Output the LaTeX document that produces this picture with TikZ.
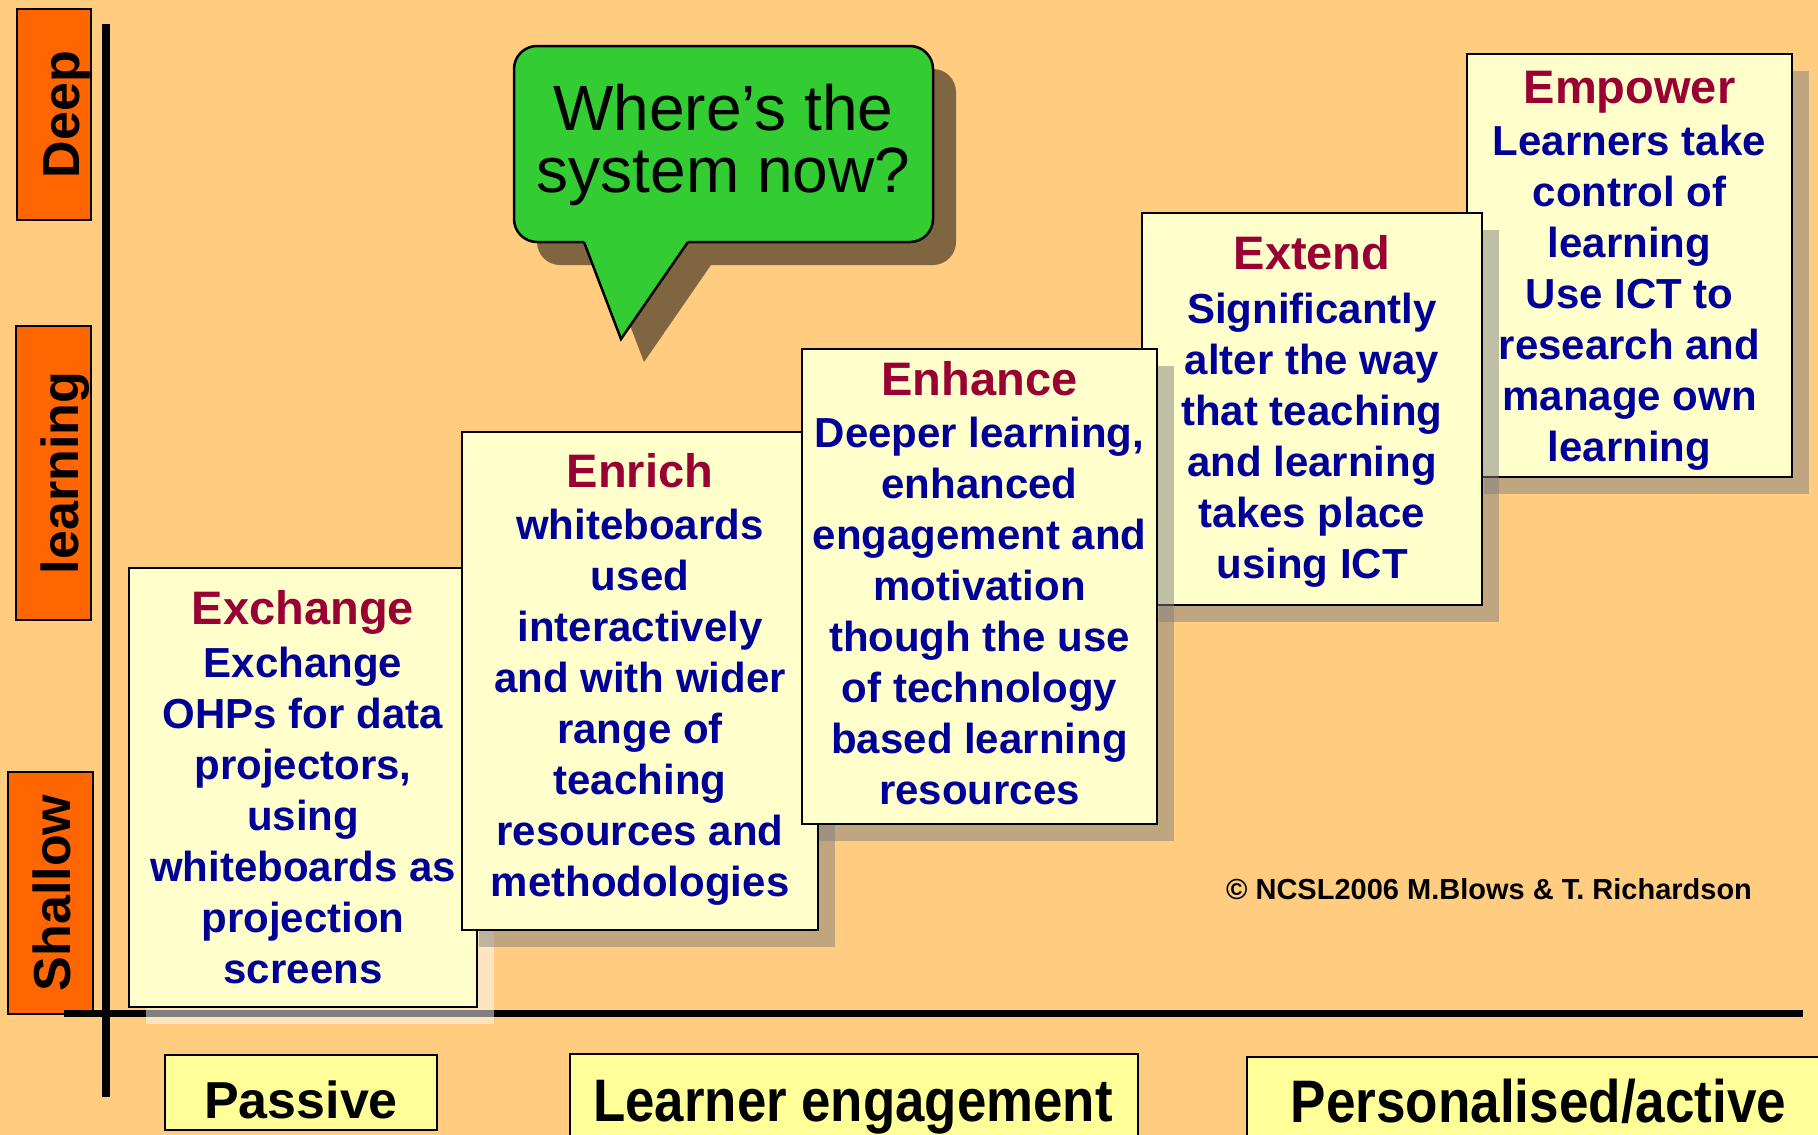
\documentclass[tikz,border=0pt]{standalone}
\usepackage{fontspec}
\setmainfont{Liberation Sans}
\usepackage{graphicx}
\definecolor{bgc}{HTML}{FFCC80}
\definecolor{lblorange}{HTML}{FF6600}
\definecolor{bubgreen}{HTML}{33CC33}
\definecolor{bubshadow}{HTML}{806640}
\definecolor{cardfill}{HTML}{FFFFCC}
\definecolor{axisfill}{HTML}{FFFF99}
\definecolor{ttl}{HTML}{990033}
\definecolor{navy}{HTML}{000099}
\newcommand\cardtitle[1]{{\fontsize{47}{51}\selectfont\color{ttl}#1}}
\begin{document}
\begin{tikzpicture}[x=1pt, y=-1pt,
  lbl/.style={draw=black, line width=2pt, fill=lblorange, inner sep=0pt},
  lbltext/.style={rotate=90, anchor=base, inner sep=0pt, font=\bfseries\fontsize{52}{52}\selectfont},
  card/.style={draw=black, line width=2pt, fill=cardfill, inner sep=0pt},
  cardshadow/.style={fill=black!50, fill opacity=0.5},
  cardtext/.style={anchor=north, align=center, inner sep=0pt, text=navy, font=\bfseries\fontsize{42}{51}\selectfont},
  axislbl/.style={draw=black, line width=2pt, fill=axisfill, inner sep=0pt},
  axistext/.style={anchor=base, inner sep=0pt, font=\bfseries\fontsize{52}{52}\selectfont},
  axisline/.style={line width=7.5pt}
]
\fill[bgc] (0,0) rectangle (1818,1135);
\useasboundingbox (0,0) rectangle (1818,1135);

% left orange labels
\node[lbl, minimum width=74pt, minimum height=211pt] (deepbox) at (54,114.5) {};
\node[lbltext] (deep) at (79,114.5) {Deep};
\node[lbl, minimum width=75pt, minimum height=294pt] (learnbox) at (53.5,473) {};
\node[lbltext] (learn) at (78.5,473) {learning};
\node[lbl, minimum width=85pt, minimum height=242pt] (shallowbox) at (50.5,893) {};
\node[lbltext] (shallow) at (70,893) {Shallow};

% axes
\coordinate (vtop) at (106,23.5);
\coordinate (vbot) at (106,1097);
\draw[axisline, line width=8pt] (vtop) -- (vbot);
\coordinate (hleft) at (64,1013.5);
\coordinate (hright) at (1803,1013.5);
\draw[axisline] (hleft) -- (hright);

% speech bubble
\fill[bubshadow, rounded corners=23pt] (537,69) rectangle (956,265);
\fill[bubshadow] (603.2,255) -- (644,362) -- (717.9,255) -- cycle;
\node[draw=black, line width=2.5pt, fill=bubgreen, rounded corners=23pt, minimum width=419pt, minimum height=196pt, inner sep=0pt] (bubble) at (723.5,144) {};
\coordinate (tailL) at (584,242);
\coordinate (tailT) at (621,339);
\coordinate (tailR) at (688,242);
\fill[bubgreen] (tailL) -- (tailT) -- (tailR) -- (688,238) -- (584,238) -- cycle;
\draw[line width=2.5pt] (tailL) -- (tailT) -- (tailR);
\node[anchor=north, align=center, inner sep=0pt, font=\fontsize{64}{62}\selectfont] (bubtext) at (723.5,80) {\rule{0pt}{50pt}Where’s the\\system now?};

% Exchange
\fill[white, fill opacity=0.5] (146,584.5) rectangle (494,1023.5);
\node[card, minimum width=348pt, minimum height=439pt] (exch) at (303,787) {};
\node[cardtext] (exchtext) at (303,584.6) {\rule{0pt}{40pt}\cardtitle{Exchange}\\[1.4pt]Exchange\\OHPs for data\\projectors,\\using\\whiteboards as\\projection\\screens};

% Enrich
\fill[cardshadow] (479,449) rectangle (835,947);
\node[card, minimum width=356pt, minimum height=498pt] (enrich) at (640,681) {};
\node[cardtext] (enrichtext) at (640,447.5) {\rule{0pt}{40pt}\cardtitle{Enrich}\\[1pt]whiteboards\\used\\interactively\\and with wider\\range of\\teaching\\resources and\\methodologies};

% Empower
\fill[cardshadow] (1484,71) rectangle (1809,494);
\node[card, minimum width=325pt, minimum height=423pt] (empower) at (1629.5,265.5) {};
\node[cardtext] (empowertext) at (1629.5,63) {\rule{0pt}{40pt}\cardtitle{Empower}\\[1.5pt]Learners take\\control of\\learning\\Use ICT to\\research and\\manage own\\learning};

% Extend
\fill[cardshadow] (1159,230) rectangle (1499,622);
\node[card, minimum width=340pt, minimum height=392pt] (extend) at (1312,409) {};
\node[cardtext] (extendtext) at (1312,229) {\rule{0pt}{40pt}\cardtitle{Extend}\\[3pt]Significantly\\alter the way\\that teaching\\and learning\\takes place\\using ICT};

% Enhance
\fill[cardshadow] (819,366) rectangle (1174,841);
\node[card, minimum width=355pt, minimum height=475pt] (enhance) at (979.5,586.5) {};
\node[cardtext] (enhancetext) at (979.5,355) {\rule{0pt}{40pt}\cardtitle{Enhance}\\[1pt]Deeper learning,\\enhanced\\engagement and\\motivation\\though the use\\of technology\\based learning\\resources};

% copyright
\node[anchor=base west, inner sep=0pt, font=\bfseries\fontsize{29}{29}\selectfont] (copy) at (1226,899) {© NCSL2006 M.Blows \& T. Richardson};

% bottom labels
\node[axislbl, minimum width=272pt, minimum height=75pt] (passivebox) at (301,1092.5) {};
\node[axistext] (passive) at (301,1118) {Passive};
\node[axislbl, minimum width=568pt, minimum height=100pt] (learnerbox) at (854,1104) {};
\node[axistext, font=\bfseries\fontsize{60}{60}\selectfont] (learner) at (853,1121) {\scalebox{0.88}[1]{Learner engagement}};
\node[axislbl, minimum width=600pt, minimum height=100pt] (persbox) at (1547,1107) {};
\node[axistext, font=\bfseries\fontsize{60}{60}\selectfont] (pers) at (1538.5,1122) {\scalebox{0.885}[1]{Personalised/active}};
\end{tikzpicture}
\end{document}
